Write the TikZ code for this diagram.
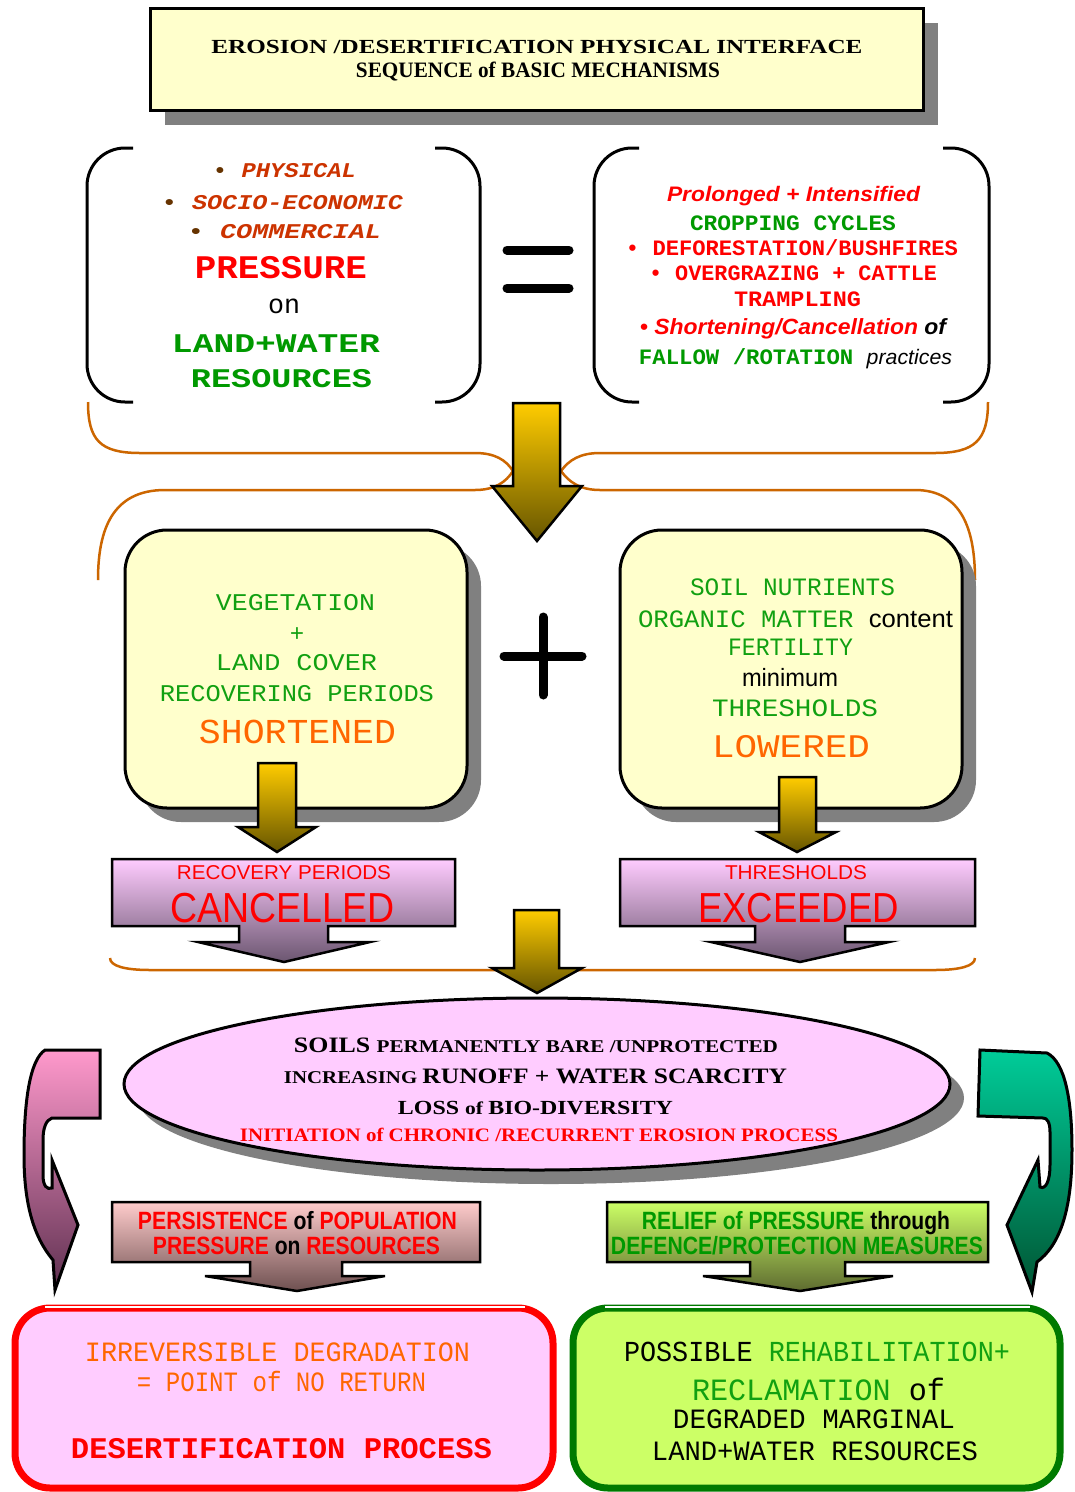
\documentclass[tikz,border=0pt]{standalone}
\usepackage{fontspec}
\usepackage{graphicx}
\usetikzlibrary{shapes.geometric,shadows}
\newfontfamily\monofam{Liberation Mono}
\newfontfamily\serifam{Liberation Serif}
\newfontfamily\sansfam{Liberation Sans}
\newcommand\fsz[1]{\fontsize{#1}{#1}\selectfont}
\newcommand\fitw[2]{\resizebox{#1pt}{\height}{#2}}

\definecolor{paleyellow}{HTML}{FFFFCC}
\definecolor{shadowgray}{HTML}{808080}
\definecolor{bracecol}{HTML}{CC6600}
\definecolor{rust}{HTML}{CC3300}
\definecolor{bulletbrown}{HTML}{663300}
\definecolor{leafgreen}{HTML}{009900}
\definecolor{softgreen}{HTML}{11A011}
\definecolor{vivid}{HTML}{FF0000}
\definecolor{tangerine}{HTML}{FF6600}
\definecolor{lilac}{HTML}{FFCCFF}
\definecolor{limefill}{HTML}{CCFF66}
\definecolor{forest}{HTML}{007A00}
\definecolor{goldtop}{HTML}{FFCC00}
\definecolor{goldbot}{HTML}{665500}
\definecolor{mauvebot}{HTML}{6B5670}
\definecolor{rosetop}{HTML}{FFCCCC}
\definecolor{rosebot}{HTML}{6E5050}
\definecolor{olivebot}{HTML}{5E6B30}
\definecolor{pinktop}{HTML}{FF99CC}
\definecolor{pinkbot}{HTML}{5E3050}
\definecolor{tealtop}{HTML}{00CC99}
\definecolor{tealbot}{HTML}{005533}

\tikzset{
  txt/.style={inner sep=0pt, outer sep=0pt},
  flatshadow/.style={drop shadow={shadow xshift=#1pt, shadow yshift=-#1pt, fill=shadowgray, opacity=1}},
  bracket/.style={line width=3pt, rounded corners=38pt},
  brace/.style={draw=bracecol, line width=2.5pt},
  goldarrow/.style={draw=black, line width=2.5pt, top color=goldtop, bottom color=goldbot},
  callout/.style={draw=black, line width=2.5pt},
  bar/.style={line width=9pt, line cap=round},
}

\begin{document}
\begin{tikzpicture}[x=1pt,y=1pt]
\useasboundingbox (0,0) rectangle (1075,-1492);
\fill[white] (0,0) rectangle (1075,-1492);

% ---------- title ----------
\node[draw, line width=3pt, fill=paleyellow, minimum width=773pt, minimum height=102pt,
      flatshadow=15] (title) at (536.5,-59) {};
\node[txt] (title1) at (537,-47) {\serifam\bfseries\fsz{20}\fitw{651}{EROSION /DESERTIFICATION PHYSICAL INTERFACE}};
\node[txt] (title2) at (538,-72) {\serifam\bfseries\fsz{22}\fitw{364}{SEQUENCE of BASIC MECHANISMS}};

% ---------- pressure brackets ----------
\draw[bracket] (133,-148) -- (87,-148) -- (87,-402) -- (133,-402);
\draw[bracket] (435,-148) -- (480,-148) -- (480,-402) -- (435,-402);
\draw[bracket] (639,-148) -- (594,-148) -- (594,-402) -- (639,-402);
\draw[bracket] (943,-148) -- (989,-148) -- (989,-402) -- (943,-402);

% equals sign
\draw[bar] (507,-250) -- (569,-250);
\draw[bar] (507,-288) -- (569,-288);

% ---------- orange braces ----------
\draw[brace] (88,-402) .. controls (88,-440) and (100,-453) .. (140,-453) -- (475,-453)
  .. controls (495,-453) and (506,-460) .. (513,-471);
\draw[brace] (513,-471) .. controls (506,-482) and (495,-490) .. (475,-490) -- (165,-490)
  .. controls (112,-490) and (98,-530) .. (98,-580);
\draw[brace] (988,-402) .. controls (988,-440) and (975,-453) .. (935,-453) -- (600,-453)
  .. controls (580,-453) and (569,-460) .. (561,-471);
\draw[brace] (561,-471) .. controls (569,-482) and (580,-490) .. (600,-490) -- (915,-490)
  .. controls (962,-490) and (975,-530) .. (975,-580);

% first downward arrow
\path[goldarrow] (513,-403) -- (560,-403) -- (560,-486) -- (582,-486) -- (537,-541)
  -- (492,-486) -- (513,-486) -- cycle;

% ---------- middle boxes ----------
\node[draw, line width=3pt, fill=paleyellow, rounded corners=42pt, minimum width=342pt,
      minimum height=278pt, flatshadow=14] (vegbox) at (296,-669) {};
\node[draw, line width=3pt, fill=paleyellow, rounded corners=42pt, minimum width=342pt,
      minimum height=278pt, flatshadow=14] (soilbox) at (791,-669) {};

% plus sign
\draw[bar] (543,-617) -- (543,-695);
\draw[bar] (504,-656) -- (582,-656);

\path[goldarrow] (258,-763) -- (296,-763) -- (296,-827) -- (316,-827) -- (277,-852)
  -- (238,-827) -- (258,-827) -- cycle;
\path[goldarrow] (779,-777) -- (816,-777) -- (816,-832) -- (836,-832) -- (797,-852)
  -- (759,-832) -- (779,-832) -- cycle;

% ---------- cancelled / exceeded callouts ----------
\path[callout, top color=lilac, bottom color=mauvebot] (112,-859) -- (455,-859) -- (455,-926)
  -- (328,-926) -- (328,-942) -- (370,-942) -- (284,-962) -- (198,-942) -- (239,-942)
  -- (239,-926) -- (112,-926) -- cycle;
\path[callout, top color=lilac, bottom color=mauvebot] (620,-859) -- (975,-859) -- (975,-926)
  -- (845,-926) -- (845,-942) -- (889,-942) -- (800,-962) -- (711,-942) -- (755,-942)
  -- (755,-926) -- (620,-926) -- cycle;

\draw[brace] (110,-958) .. controls (110,-966) and (125,-970) .. (150,-970) -- (935,-970)
  .. controls (960,-970) and (975,-966) .. (975,-958);

\path[goldarrow] (514,-910) -- (559,-910) -- (559,-968) -- (582,-968) -- (537,-993)
  -- (492,-968) -- (514,-968) -- cycle;

% ---------- central ellipse ----------
\node[ellipse, draw, line width=3pt, fill=lilac, minimum width=826pt, minimum height=172pt,
      flatshadow=14] (bare) at (537,-1084) {};

% side return arrows
\path[callout, line width=3pt, top color=pinktop, bottom color=pinkbot]
  (100,-1050) -- (100,-1118) -- (52,-1118) .. controls (46,-1120) and (43,-1128) .. (43,-1140)
  -- (43,-1175) .. controls (43,-1186) and (47,-1190) .. (52,-1188) -- (52,-1160)
  -- (78,-1225) -- (55,-1290) -- (53,-1260)
  .. controls (32,-1235) and (24,-1200) .. (24,-1155)
  .. controls (24,-1100) and (30,-1060) .. (45,-1050) -- cycle;
\path[callout, line width=3pt, top color=tealtop, bottom color=tealbot]
  (980,-1050) -- (1047,-1053) .. controls (1065,-1062) and (1072,-1100) .. (1072,-1150)
  .. controls (1072,-1210) and (1060,-1245) .. (1037,-1262) -- (1032,-1292) -- (1007,-1225)
  -- (1038,-1160) -- (1040,-1187) .. controls (1046,-1190) and (1050,-1180) .. (1050,-1165)
  -- (1050,-1132) .. controls (1050,-1122) and (1047,-1118) .. (1043,-1118)
  -- (978,-1116) -- cycle;

% ---------- outcome callouts ----------
\path[callout, top color=rosetop, bottom color=rosebot] (112,-1202) -- (480,-1202) -- (480,-1262)
  -- (342,-1262) -- (342,-1276) -- (385,-1276) -- (297,-1291) -- (205,-1276) -- (250,-1276)
  -- (250,-1262) -- (112,-1262) -- cycle;
\path[callout, top color=limefill, bottom color=olivebot] (607,-1202) -- (988,-1202) -- (988,-1262)
  -- (845,-1262) -- (845,-1276) -- (893,-1276) -- (800,-1291) -- (703,-1276) -- (750,-1276)
  -- (750,-1262) -- (607,-1262) -- cycle;

% ---------- final boxes ----------
\node[draw=vivid, line width=7pt, fill=lilac, rounded corners=35pt, minimum width=538pt,
      minimum height=180pt] (desert) at (284,-1398) {};
\draw[white, line width=1.2pt] (45,-1307) -- (525,-1307);
\node[draw=forest, line width=7pt, fill=limefill, rounded corners=35pt, minimum width=487pt,
      minimum height=180pt] (rehab) at (816.5,-1398) {};
\draw[white, line width=1.2pt] (605,-1307) -- (1030,-1307);

% ---------- texts: pressure ----------
\node[txt, text=rust] (phys) at (284.5,-171) {\monofam\bfseries\fsz{21}\fitw{143}{\textcolor{bulletbrown}{•} \itshape PHYSICAL}};
\node[txt, text=rust] (socio) at (282.5,-203) {\monofam\bfseries\fsz{21}\fitw{241}{\textcolor{bulletbrown}{•} \itshape SOCIO-ECONOMIC}};
\node[txt, text=rust] (comm) at (284.5,-232) {\monofam\bfseries\fsz{21}\fitw{193}{\textcolor{bulletbrown}{•} \itshape COMMERCIAL}};
\node[txt, text=vivid] (press) at (281,-268) {\monofam\bfseries\fsz{33}\fitw{172}{PRESSURE}};
\node[txt] (on) at (284,-306) {\monofam\fsz{27}\fitw{32}{on}};
\node[txt, text=leafgreen] (landw) at (276,-344) {\monofam\bfseries\fsz{27}\fitw{208}{LAND+WATER}};
\node[txt, text=leafgreen] (resour) at (281.5,-379) {\monofam\bfseries\fsz{27}\fitw{181}{RESOURCES}};

% ---------- texts: practices ----------
\node[txt, text=vivid] (prol) at (793.5,-196) {\sansfam\bfseries\itshape\fsz{21}\fitw{253}{Prolonged + Intensified}};
\node[txt, text=leafgreen] (crop) at (793,-223) {\monofam\bfseries\fsz{22}\fitw{206}{CROPPING CYCLES}};
\node[txt, text=vivid] (defor) at (792,-248) {\monofam\bfseries\fsz{22}\fitw{332}{• DEFORESTATION/BUSHFIRES}};
\node[txt, text=vivid] (overg) at (793,-273) {\monofam\bfseries\fsz{22}\fitw{288}{• OVERGRAZING + CATTLE}};
\node[txt, text=vivid] (tramp) at (797.5,-299) {\monofam\bfseries\fsz{22}\fitw{127}{TRAMPLING}};
\node[txt, text=vivid] (short) at (793,-329) {\sansfam\bfseries\itshape\fsz{22}\fitw{306}{• Shortening/Cancellation \textcolor{black}{of}}};
\node[txt, text=leafgreen] (fallow) at (795.5,-359) {\fitw{313}{\monofam\bfseries\fsz{22}FALLOW /ROTATION \textcolor{black}{\sansfam\mdseries\itshape\fsz{21}practices}}};

% ---------- texts: vegetation box ----------
\node[txt, text=softgreen] (veg1) at (295.5,-603) {\monofam\fsz{24}\fitw{159}{VEGETATION}};
\node[txt, text=softgreen] (veg2) at (297,-635) {\monofam\fsz{24}+};
\node[txt, text=softgreen] (veg3) at (296.5,-663) {\monofam\fsz{24}\fitw{161}{LAND COVER}};
\node[txt, text=softgreen] (veg4) at (297,-694) {\monofam\fsz{24}\fitw{274}{RECOVERING PERIODS}};
\node[txt, text=tangerine] (veg5) at (297.5,-732) {\monofam\fsz{35}\fitw{197}{SHORTENED}};

% ---------- texts: soil box ----------
\node[txt, text=softgreen] (soil1) at (792.5,-587) {\monofam\fsz{25}\fitw{205}{SOIL NUTRIENTS}};
\node[txt, text=softgreen] (soil2) at (795.5,-619) {\fitw{315}{\monofam\fsz{25}ORGANIC MATTER \textcolor{black}{\sansfam\fsz{25}content}}};
\node[txt, text=softgreen] (soil3) at (790.5,-647) {\monofam\fsz{25}\fitw{125}{FERTILITY}};
\node[txt] (soil4) at (790,-678) {\sansfam\fsz{25}\fitw{96}{minimum}};
\node[txt, text=softgreen] (soil5) at (795,-708) {\monofam\fsz{25}\fitw{166}{THRESHOLDS}};
\node[txt, text=tangerine] (soil6) at (791,-747) {\monofam\fsz{33}\fitw{158}{LOWERED}};

% ---------- texts: callouts ----------
\node[txt, text=vivid] (rec1) at (284,-873) {\sansfam\fsz{20}\fitw{214}{RECOVERY PERIODS}};
\node[txt, text=vivid] (rec2) at (282.5,-908) {\sansfam\fsz{42}\fitw{225}{CANCELLED}};
\node[txt, text=vivid] (thr1) at (796,-873) {\sansfam\fsz{20}\fitw{142}{THRESHOLDS}};
\node[txt, text=vivid] (thr2) at (798.5,-908) {\sansfam\fsz{42}\fitw{201}{EXCEEDED}};

% ---------- texts: ellipse ----------
\node[txt] (ell1) at (536,-1045) {\serifam\bfseries\fitw{484}{\fsz{22}SOILS \fsz{18}PERMANENTLY BARE /UNPROTECTED}};
\node[txt] (ell2) at (535.5,-1076) {\serifam\bfseries\fitw{503}{\fsz{18}INCREASING \fsz{22}RUNOFF + WATER SCARCITY}};
\node[txt] (ell3) at (535.5,-1108) {\serifam\bfseries\fitw{275}{\fsz{20}LOSS \fsz{18}of \fsz{20}BIO-DIVERSITY}};
\node[txt, text=vivid] (ell4) at (539,-1135) {\serifam\bfseries\fsz{19}\fitw{598}{INITIATION of CHRONIC /RECURRENT EROSION PROCESS}};

% ---------- texts: outcome callouts ----------
\node[txt, text=vivid] (pers1) at (297.5,-1221) {\sansfam\bfseries\fsz{25}\fitw{319}{PERSISTENCE \textcolor{black}{of} POPULATION}};
\node[txt, text=vivid] (pers2) at (296.5,-1246) {\sansfam\bfseries\fsz{25}\fitw{287}{PRESSURE \textcolor{black}{on} RESOURCES}};
\node[txt, text=leafgreen] (rel1) at (796,-1223) {\sansfam\bfseries\fsz{25}\fitw{308}{RELIEF of PRESSURE \textcolor{black}{through}}};
\node[txt, text=leafgreen] (rel2) at (797,-1246) {\sansfam\bfseries\fsz{25}\fitw{372}{DEFENCE/PROTECTION MEASURES}};

% ---------- texts: final boxes ----------
\node[txt, text=tangerine] (irr1) at (277.5,-1352) {\monofam\fsz{28}\fitw{385}{IRREVERSIBLE DEGRADATION}};
\node[txt, text=tangerine] (irr2) at (281.5,-1381) {\monofam\fsz{28}\fitw{289}{= POINT of NO RETURN}};
\node[txt, text=vivid] (irr3) at (281.5,-1449) {\monofam\bfseries\fsz{30}\fitw{421}{DESERTIFICATION PROCESS}};
\node[txt, text=softgreen] (pos1) at (817,-1352) {\monofam\fsz{29}\fitw{386}{\textcolor{black}{POSSIBLE} REHABILITATION+}};
\node[txt, text=softgreen] (pos2) at (818.5,-1389) {\monofam\fsz{31}\fitw{253}{RECLAMATION \textcolor{black}{of}}};
\node[txt] (pos3) at (814,-1419) {\monofam\fsz{28}\fitw{282}{DEGRADED MARGINAL}};
\node[txt] (pos4) at (815,-1451) {\monofam\fsz{28}\fitw{326}{LAND+WATER RESOURCES}};
\end{tikzpicture}
\end{document}
